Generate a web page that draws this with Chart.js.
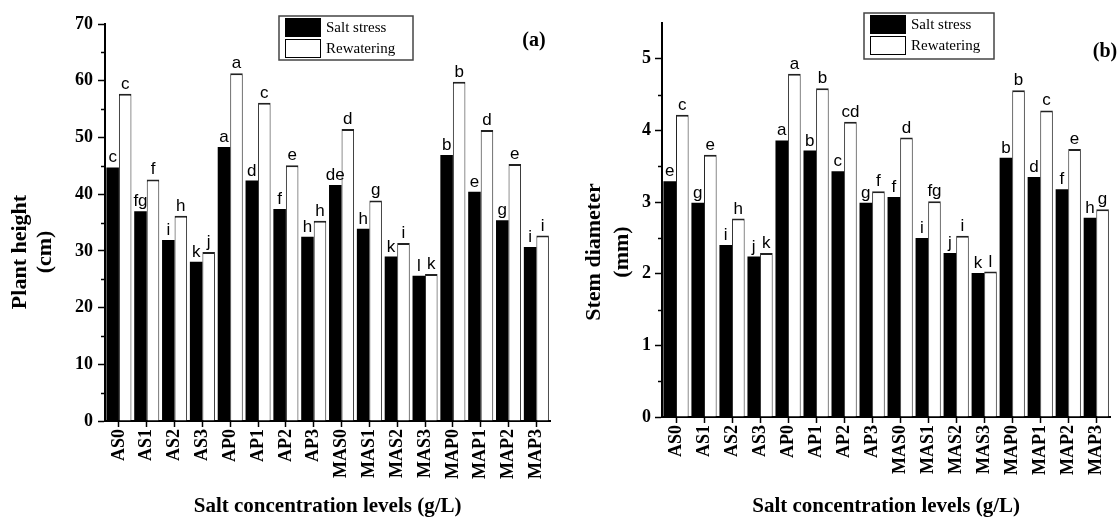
<!DOCTYPE html>
<html lang="en">
<head>
  <meta charset="UTF-8">
  <title>Plant height and stem diameter</title>
  <script src="https://cdn.jsdelivr.net/npm/chart.js"></script>
  <style>
    body { margin: 0; background: #fff; }
    .panel { position: absolute; top: 0; width: 560px; height: 519px; }
  </style>
</head>
<body>
  <div class="panel" style="left:0"><canvas id="heightChart" width="560" height="519"></canvas></div>
  <div class="panel" style="left:560px"><canvas id="stemChart" width="560" height="519"></canvas></div>

  <script>
    const categories = ['AS0', 'AS1', 'AS2', 'AS3', 'AP0', 'AP1', 'AP2', 'AP3',
                        'MAS0', 'MAS1', 'MAS2', 'MAS3', 'MAP0', 'MAP1', 'MAP2', 'MAP3'];

    // (a) plant height, cm
    const heightSalt = [44.7, 37.0, 31.9, 28.1, 48.3, 42.4, 37.4, 32.5, 41.6, 33.9, 29.0, 25.6, 46.9, 40.4, 35.4, 30.7];
    const heightRewater = [57.7, 42.6, 36.2, 29.8, 61.3, 56.1, 45.1, 35.3, 51.5, 38.9, 31.4, 25.9, 59.8, 51.3, 45.3, 32.7];
    const heightSaltLetters = ['c', 'fg', 'i', 'k', 'a', 'd', 'f', 'h', 'de', 'h', 'k', 'l', 'b', 'e', 'g', 'i'];
    const heightRewaterLetters = ['c', 'f', 'h', 'j', 'a', 'c', 'e', 'h', 'd', 'g', 'i', 'k', 'b', 'd', 'e', 'i'];

    // (b) stem diameter, mm
    const stemSalt = [3.29, 2.99, 2.40, 2.24, 3.86, 3.72, 3.43, 2.99, 3.07, 2.50, 2.29, 2.01, 3.62, 3.35, 3.18, 2.78];
    const stemRewater = [4.22, 3.66, 2.77, 2.29, 4.79, 4.59, 4.12, 3.15, 3.90, 3.01, 2.53, 2.03, 4.56, 4.28, 3.74, 2.90];
    const stemSaltLetters = ['e', 'g', 'i', 'j', 'a', 'b', 'c', 'g', 'f', 'i', 'j', 'k', 'b', 'd', 'f', 'h'];
    const stemRewaterLetters = ['c', 'e', 'h', 'k', 'a', 'b', 'cd', 'f', 'd', 'fg', 'i', 'l', 'b', 'c', 'e', 'g'];

    const seriesNames = ['Salt stress', 'Rewatering'];
    const xTitle = 'Salt concentration levels (g/L)';

    const SERIF = "'Liberation Serif', 'Times New Roman', serif";
    const SANS = "'Liberation Sans', Arial, sans-serif";

    // letters above bars + minor ticks + titles + legend box
    const extras = {
      id: 'extras',
      afterDatasetsDraw(chart, args, o) {
        const ctx = chart.ctx;
        ctx.save();
        ctx.fillStyle = '#000';
        ctx.font = '17px ' + SANS;
        ctx.textAlign = 'center';
        ctx.textBaseline = 'alphabetic';
        o.letters.forEach((list, d) => {
          chart.getDatasetMeta(d).data.forEach((bar, i) => {
            ctx.fillText(list[i], bar.x, bar.y - 5);
          });
        });
        ctx.restore();
      },
      afterDraw(chart, args, o) {
        const ctx = chart.ctx;
        const y = chart.scales.y;
        const area = chart.chartArea;
        ctx.save();
        // minor ticks
        ctx.strokeStyle = '#000';
        ctx.lineWidth = 1.5;
        for (let v = o.minor; v < y.max; v += o.minor * 2) {
          const py = Math.round(y.getPixelForValue(v)) + 0.5;
          ctx.beginPath();
          ctx.moveTo(area.left - 4, py);
          ctx.lineTo(area.left, py);
          ctx.stroke();
        }
        ctx.fillStyle = '#000';
        ctx.textAlign = 'center';
        ctx.textBaseline = 'middle';
        // y title, two rotated lines
        ctx.font = 'bold 22px ' + SERIF;
        o.yTitle.forEach((t, k) => {
          ctx.save();
          ctx.translate(o.yTitleX[k], o.yTitleY);
          ctx.rotate(-Math.PI / 2);
          ctx.fillText(t, 0, 0);
          ctx.restore();
        });
        // x title
        ctx.font = 'bold 21px ' + SERIF;
        ctx.fillText(xTitle, (area.left + area.right) / 2, 507);
        // panel tag
        ctx.font = 'bold 20px ' + SERIF;
        ctx.fillText(o.tag, o.tagX, o.tagY);
        // legend
        const L = o.legend;
        ctx.strokeStyle = '#444';
        ctx.lineWidth = 1.5;
        ctx.strokeRect(L.x, L.y, L.w, L.h);
        ctx.fillStyle = '#000';
        ctx.fillRect(L.x + 6, L.y + 2, 36, 19);
        ctx.fillStyle = '#fff';
        ctx.fillRect(L.x + 6, L.y + 23, 36, 19);
        ctx.strokeStyle = '#000';
        ctx.lineWidth = 1;
        ctx.strokeRect(L.x + 6.5, L.y + 23.5, 35, 18);
        ctx.fillStyle = '#000';
        ctx.font = '15px ' + SERIF;
        ctx.textAlign = 'left';
        ctx.fillText(seriesNames[0], L.x + 47, L.y + 12);
        ctx.fillText(seriesNames[1], L.x + 47, L.y + 33);
        ctx.restore();
      }
    };

    function makeChart(id, salt, rewater, p) {
      const ctx = document.getElementById(id).getContext('2d');
      return new Chart(ctx, {
        type: 'bar',
        data: {
          labels: categories,
          datasets: [{
            label: seriesNames[0],
            data: salt,
            backgroundColor: '#000',
            borderColor: '#000',
            borderWidth: 0,
            categoryPercentage: 0.9,
            barPercentage: 1.0
          }, {
            label: seriesNames[1],
            data: rewater,
            backgroundColor: '#fff',
            borderColor: '#222',
            borderWidth: { top: 2, left: 1, right: 1, bottom: 0 },
            categoryPercentage: 0.9,
            barPercentage: 1.0
          }]
        },
        options: {
          responsive: false,
          animation: false,
          layout: { padding: { top: p.top, right: p.right, left: 0, bottom: 0 } },
          plugins: {
            legend: { display: false },
            tooltip: { enabled: false },
            extras: p.extras
          },
          scales: {
            x: {
              grid: { display: true, drawOnChartArea: false, offset: false, tickLength: 6, tickColor: '#000', tickWidth: 1.5 },
              border: { color: '#000', width: 2 },
              ticks: {
                autoSkip: false, maxRotation: 90, minRotation: 90, padding: 2,
                color: '#000', font: { family: SERIF, size: 18, weight: 'bold' }
              },
              afterFit: (s) => { s.height = p.xHeight; }
            },
            y: {
              min: 0,
              max: p.max,
              grid: { display: true, drawOnChartArea: false, tickLength: 7, tickColor: '#000', tickWidth: 1.5 },
              border: { color: '#000', width: 2 },
              ticks: {
                stepSize: p.step, includeBounds: false, padding: p.tickPad,
                color: '#000', font: { family: SERIF, size: 18, weight: 'bold' }
              },
              afterFit: (s) => { s.width = p.yWidth; }
            }
          }
        },
        plugins: [extras]
      });
    }

    makeChart('heightChart', heightSalt, heightRewater, {
      top: 24, right: 1, xHeight: 98, yWidth: 105, max: 70, step: 10, tickPad: 5,
      extras: {
        letters: [heightSaltLetters, heightRewaterLetters],
        minor: 5,
        yTitle: ['Plant height', '(cm)'], yTitleX: [20, 45], yTitleY: 252,
        tag: '(a)', tagX: 534, tagY: 41,
        legend: { x: 279, y: 16, w: 134, h: 44 }
      }
    });

    makeChart('stemChart', stemSalt, stemRewater, {
      top: 23, right: 4, xHeight: 102, yWidth: 102, max: 5.5, step: 1, tickPad: 4,
      extras: {
        letters: [stemSaltLetters, stemRewaterLetters],
        minor: 0.5,
        yTitle: ['Stem diameter', '(mm)'], yTitleX: [34, 62], yTitleY: 252,
        tag: '(b)', tagX: 545, tagY: 52,
        legend: { x: 304, y: 13, w: 130, h: 46 }
      }
    });
  </script>
</body>
</html>
